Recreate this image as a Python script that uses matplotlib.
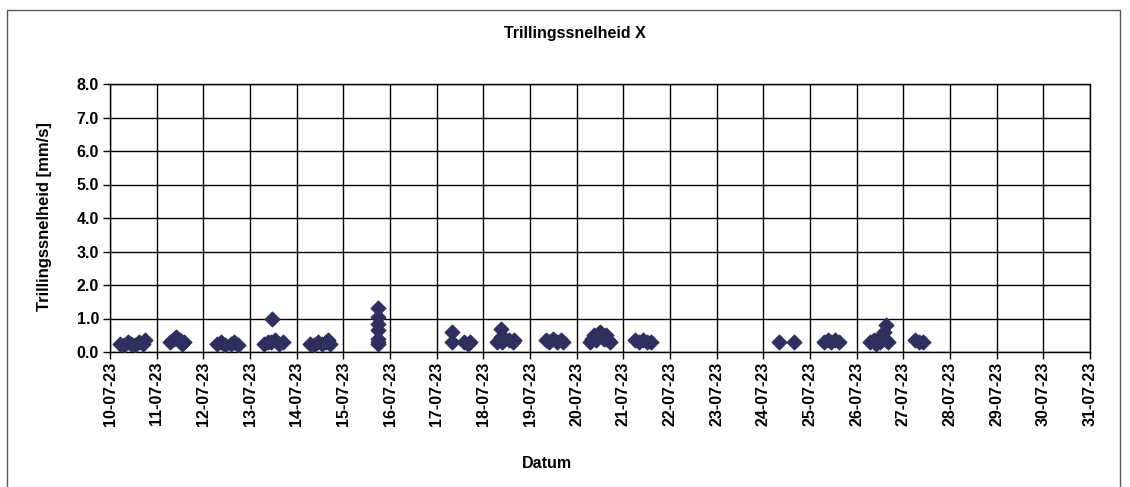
import numpy as np
import pandas as pd
import matplotlib
matplotlib.use('agg')
import matplotlib.pyplot as plt
import matplotlib.dates as mdates
from matplotlib.patches import Rectangle

plt.rcParams['font.family'] = ['Liberation Sans', 'DejaVu Sans']

# measurement moments (date + hour) and peak velocity in mm/s
times = [
    "2023-07-10 05:00", "2023-07-10 07:00", "2023-07-10 09:00", "2023-07-10 11:00",
    "2023-07-10 13:00", "2023-07-10 15:00", "2023-07-10 17:00", "2023-07-10 18:00",
    "2023-07-11 07:00", "2023-07-11 09:00", "2023-07-11 10:00", "2023-07-11 12:00",
    "2023-07-11 13:00", "2023-07-11 14:00",
    "2023-07-12 07:00", "2023-07-12 09:00", "2023-07-12 11:00", "2023-07-12 14:00",
    "2023-07-12 16:00", "2023-07-12 18:00",
    "2023-07-13 07:00", "2023-07-13 09:00", "2023-07-13 11:00", "2023-07-13 11:30",
    "2023-07-13 13:00", "2023-07-13 15:00", "2023-07-13 17:00",
    "2023-07-14 07:00", "2023-07-14 09:00", "2023-07-14 11:00", "2023-07-14 13:00",
    "2023-07-14 15:00", "2023-07-14 16:00", "2023-07-14 17:00",
    "2023-07-15 18:00", "2023-07-15 18:00", "2023-07-15 18:00", "2023-07-15 18:00",
    "2023-07-15 18:00", "2023-07-15 18:00", "2023-07-15 18:00",
    "2023-07-17 08:00", "2023-07-17 08:00", "2023-07-17 14:00", "2023-07-17 16:00",
    "2023-07-17 17:00",
    "2023-07-18 07:00", "2023-07-18 09:00", "2023-07-18 09:00", "2023-07-18 09:30",
    "2023-07-18 11:00", "2023-07-18 13:00", "2023-07-18 15:00", "2023-07-18 16:00",
    "2023-07-19 08:00", "2023-07-19 10:00", "2023-07-19 12:00", "2023-07-19 14:00",
    "2023-07-19 16:00", "2023-07-19 17:00",
    "2023-07-20 07:00", "2023-07-20 08:00", "2023-07-20 09:00", "2023-07-20 10:00",
    "2023-07-20 11:00", "2023-07-20 12:00", "2023-07-20 13:00", "2023-07-20 14:00",
    "2023-07-20 15:00", "2023-07-20 16:00", "2023-07-20 17:00",
    "2023-07-21 06:00", "2023-07-21 08:00", "2023-07-21 10:00", "2023-07-21 12:00",
    "2023-07-21 14:00",
    "2023-07-24 08:00", "2023-07-24 16:00",
    "2023-07-25 07:00", "2023-07-25 09:00", "2023-07-25 11:00", "2023-07-25 13:00",
    "2023-07-25 15:00",
    "2023-07-26 07:00", "2023-07-26 09:00", "2023-07-26 10:00", "2023-07-26 11:00",
    "2023-07-26 12:00", "2023-07-26 13:00", "2023-07-26 14:00", "2023-07-26 15:00",
    "2023-07-26 15:00", "2023-07-26 16:00",
    "2023-07-27 06:00", "2023-07-27 08:00", "2023-07-27 10:00",
]
velocity = [
    0.25, 0.2, 0.3, 0.25, 0.2, 0.3, 0.25, 0.35,
    0.3, 0.4, 0.45, 0.35, 0.25, 0.3,
    0.25, 0.3, 0.2, 0.25, 0.3, 0.2,
    0.25, 0.3, 0.3, 1.0, 0.35, 0.25, 0.3,
    0.25, 0.2, 0.3, 0.25, 0.3, 0.35, 0.25,
    0.25, 0.4, 0.65, 0.85, 1.05, 1.3, 0.3,
    0.6, 0.3, 0.3, 0.25, 0.3,
    0.3, 0.45, 0.7, 0.3, 0.4, 0.35, 0.3, 0.35,
    0.35, 0.3, 0.4, 0.3, 0.35, 0.3,
    0.3, 0.4, 0.5, 0.35, 0.55, 0.6, 0.45, 0.4, 0.5, 0.35, 0.3,
    0.35, 0.3, 0.35, 0.3, 0.3,
    0.3, 0.3,
    0.3, 0.35, 0.3, 0.35, 0.3,
    0.3, 0.35, 0.25, 0.4, 0.3, 0.45, 0.6, 0.8, 0.35, 0.3,
    0.35, 0.3, 0.3,
]

day_ticks = pd.date_range("2023-07-10", "2023-07-31", freq="D")
y_ticks = np.arange(0, 8.01, 1.0)

fig = plt.figure(figsize=(11.3, 4.87), dpi=100)
ax = fig.add_axes([110 / 1130, 1 - 352 / 487, 980 / 1130, 268 / 487])

t = pd.to_datetime(times)
ax.scatter(t, velocity, marker='D', s=55, color='#2f2f5f', edgecolors='#2f2f5f', zorder=3)

ax.set_xlim(day_ticks[0], day_ticks[-1])
ax.set_ylim(0, 8)
ax.set_xticks(day_ticks)
ax.xaxis.set_major_formatter(mdates.DateFormatter('%d-%m-%y'))
ax.set_yticks(y_ticks)
ax.set_yticklabels([f"{v:.1f}" for v in y_ticks])
ax.grid(True, color='black', linewidth=1.0)
ax.set_axisbelow(True)
for s in ax.spines.values():
    s.set_linewidth(1.0)

ax.tick_params(axis='x', labelrotation=90, labelsize=11.5, length=5, width=1.0, pad=2)
ax.tick_params(axis='y', labelsize=11.5, length=5, width=1.0, pad=3)
for lab in ax.get_xticklabels() + ax.get_yticklabels():
    lab.set_fontweight('bold')

fig.text(575 / 1130, 1 - 33 / 487, "Trillingssnelheid X", fontsize=11.5, fontweight='bold',
         ha='center', va='center')
fig.text(45 / 1130, 1 - 217 / 487, "Trillingssnelheid [mm/s]", fontsize=12, fontweight='bold',
         ha='center', va='center', rotation=90)
fig.text(547 / 1130, 1 - 463 / 487, "Datum", fontsize=11.5, fontweight='bold', ha='center', va='center')

# chart border
fig.patches.append(Rectangle((7 / 1130, -0.1), 1113 / 1130, 1.1 - 10 / 487,
                             transform=fig.transFigure, fill=False, edgecolor='#555555', linewidth=1.0))

fig.savefig('out.png', dpi=100)
